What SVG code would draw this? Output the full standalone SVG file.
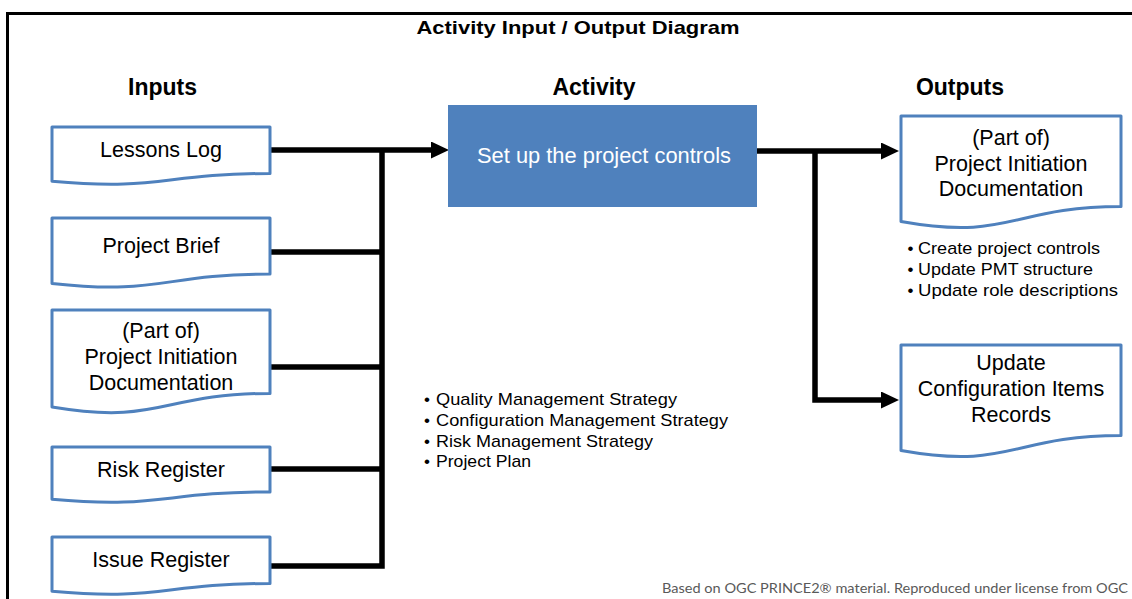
<svg xmlns="http://www.w3.org/2000/svg" width="1132" height="599" viewBox="0 0 1132 599">
<style>
text{font-family:"Liberation Sans",Arial,sans-serif;fill:#000}
.doc{fill:#fff;stroke:#4F81BD;stroke-width:3;stroke-linejoin:round}
.lbl{font-size:21.5px;text-anchor:middle}
.hd{font-size:23px;font-weight:bold;text-anchor:middle}
.bl{font-size:17px}
.conn{fill:none;stroke:#000;stroke-width:5.5;stroke-linejoin:miter}
</style>
<defs>
<marker id="arr" markerUnits="userSpaceOnUse" markerWidth="18" markerHeight="17" refX="0" refY="8.5" orient="auto">
<path d="M0,0 L18,8.5 L0,17 Z" fill="#000"/>
</marker>
</defs>
<rect width="1132" height="599" fill="#fff"/>
<path d="M7.5,599 V13.5 H1132" fill="none" stroke="#000" stroke-width="3"/>
<text x="578" y="34" font-size="19" font-weight="bold" text-anchor="middle" textLength="323" lengthAdjust="spacingAndGlyphs">Activity Input / Output Diagram</text>
<text class="hd" x="162.5" y="95">Inputs</text>
<text class="hd" x="594" y="95">Activity</text>
<text class="hd" x="960" y="95">Outputs</text>

<g id="connectors">
<path class="conn" d="M270,150 H431" marker-end="url(#arr)"/>
<path class="conn" d="M270,566 H382 V150"/>
<path class="conn" d="M270,252 H382"/>
<path class="conn" d="M270,367 H382"/>
<path class="conn" d="M270,469 H382"/>
<path class="conn" d="M757,151 H881" marker-end="url(#arr)"/>
<path class="conn" d="M815,151 V400 H881" marker-end="url(#arr)"/>
</g>

<g id="lessons-log">
<path class="doc" d="M52,127 H270 V173.5 C161,173.5 161,191.2 52,181.2 Z"/>
<text class="lbl" x="161" y="157.3">Lessons Log</text>
</g>
<g id="project-brief">
<path class="doc" d="M52,218 H270 V274.1 C161,274.1 161,295.5 52,283.4 Z"/>
<text class="lbl" x="161" y="253.3">Project Brief</text>
</g>
<g id="pid-in">
<path class="doc" d="M52,310 H270 V393.4 C161,393.4 161,425.2 52,407.1 Z"/>
<text class="lbl" x="161" y="337.5">(Part of)</text>
<text class="lbl" x="161" y="363.5">Project Initiation</text>
<text class="lbl" x="161" y="389.5">Documentation</text>
</g>
<g id="risk-register">
<path class="doc" d="M52,447 H270 V491.9 C161,491.9 161,509 52,499.3 Z"/>
<text class="lbl" x="161" y="476.7">Risk Register</text>
</g>
<g id="issue-register">
<path class="doc" d="M52,537 H270 V583.5 C161,583.5 161,601.2 52,591.2 Z"/>
<text class="lbl" x="161" y="566.5">Issue Register</text>
</g>

<g id="activity">
<rect x="448" y="105" width="309" height="102" fill="#4F81BD"/>
<text class="lbl" x="604" y="163" style="fill:#fff" textLength="254" lengthAdjust="spacingAndGlyphs">Set up the project controls</text>
</g>

<g id="pid-out">
<path class="doc" d="M901,116 H1121 V206.6 C1011,206.6 1011,241.1 901,221.5 Z"/>
<text class="lbl" x="1011" y="145">(Part of)</text>
<text class="lbl" x="1011" y="170.5">Project Initiation</text>
<text class="lbl" x="1011" y="196">Documentation</text>
</g>
<g id="pid-out-notes">
<text class="bl" x="907.5" y="254">•</text>
<text class="bl" x="918" y="254" textLength="182" lengthAdjust="spacingAndGlyphs">Create project controls</text>
<text class="bl" x="907.5" y="275">•</text>
<text class="bl" x="918" y="275" textLength="175" lengthAdjust="spacingAndGlyphs">Update PMT structure</text>
<text class="bl" x="907.5" y="296">•</text>
<text class="bl" x="918" y="296" textLength="200" lengthAdjust="spacingAndGlyphs">Update role descriptions</text>
</g>
<g id="config-items">
<path class="doc" d="M901,345 H1121 V435.6 C1011,435.6 1011,470.1 901,450.5 Z"/>
<text class="lbl" x="1011" y="370">Update</text>
<text class="lbl" x="1011" y="396">Configuration Items</text>
<text class="lbl" x="1011" y="422">Records</text>
</g>

<g id="strategies">
<text class="bl" x="424" y="405">•</text>
<text class="bl" x="436" y="405" textLength="241" lengthAdjust="spacingAndGlyphs">Quality Management Strategy</text>
<text class="bl" x="424" y="426">•</text>
<text class="bl" x="436" y="426" textLength="292" lengthAdjust="spacingAndGlyphs">Configuration Management Strategy</text>
<text class="bl" x="424" y="446.5">•</text>
<text class="bl" x="436" y="446.5" textLength="217" lengthAdjust="spacingAndGlyphs">Risk Management Strategy</text>
<text class="bl" x="424" y="467">•</text>
<text class="bl" x="436" y="467" textLength="95" lengthAdjust="spacingAndGlyphs">Project Plan</text>
</g>

<text x="662" y="593" font-size="13" style="font-family:Lato,'Open Sans',sans-serif;fill:#595959" textLength="466" lengthAdjust="spacingAndGlyphs">Based on OGC PRINCE2® material. Reproduced under license from OGC</text>
</svg>
